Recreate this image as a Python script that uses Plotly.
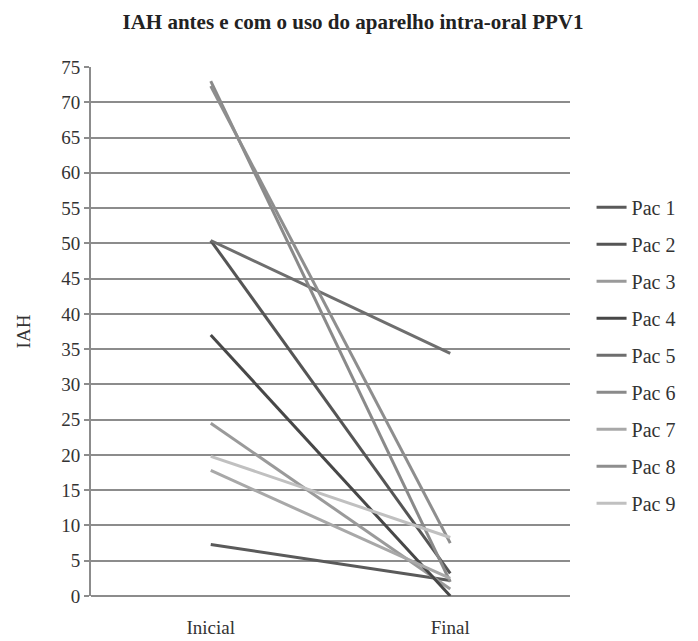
import plotly.graph_objects as go

categories = ["Inicial", "Final"]
patients = ["Pac 1", "Pac 2", "Pac 3", "Pac 4", "Pac 5", "Pac 6", "Pac 7", "Pac 8", "Pac 9"]
inicial = [7.3, 50.4, 24.5, 37.0, 50.4, 73.0, 17.8, 72.3, 19.8]
final = [2.2, 3.2, 1.0, 0.0, 34.4, 2.0, 2.5, 7.5, 8.3]
colors = ["#5a5a5a", "#555555", "#9a9a9a", "#474747", "#6e6e6e", "#8a8a8a", "#a8a8a8", "#8e8e8e", "#c0c0c0"]

font_family = "Liberation Serif, DejaVu Serif, serif"

fig = go.Figure()
for i, name in enumerate(patients):
    fig.add_trace(go.Scatter(
        x=categories, y=[inicial[i], final[i]], mode="lines", name=name,
        line=dict(color=colors[i], width=3), legendgroup=name,
    ))

fig.update_layout(
    width=690, height=633,
    paper_bgcolor="white", plot_bgcolor="white",
    margin=dict(l=83, r=128, t=59, b=45),
    title=dict(text="<b>IAH antes e com o uso do aparelho intra-oral PPV1</b>",
               x=0.5, xanchor="center", y=0.978, yanchor="middle",
               font=dict(family=font_family, size=21, color="#222222")),
    font=dict(family=font_family, color="#333333"),
    showlegend=True,
    legend=dict(x=1.045, xanchor="left", y=0.455, yanchor="middle",
                font=dict(family=font_family, size=20, color="#333333"),
                traceorder="grouped", tracegroupgap=8, itemwidth=30),
)
fig.update_xaxes(
    type="category", range=[-0.5, 1.5], showgrid=False, showline=False,
    ticks="", ticklabelstandoff=18, automargin=False,
    tickfont=dict(family=font_family, size=19, color="#333333"),
)
fig.update_yaxes(
    range=[0, 75], dtick=5, tick0=0, showgrid=True, gridcolor="#8c8c8c", gridwidth=2,
    zeroline=True, zerolinecolor="#8c8c8c", zerolinewidth=2,
    showline=True, linecolor="#8c8c8c", linewidth=2, automargin=False,
    ticks="outside", ticklen=5, tickcolor="#8c8c8c", tickwidth=2,
    tickfont=dict(family=font_family, size=19, color="#333333"),
    title=dict(text="IAH", font=dict(family=font_family, size=19, color="#333333"), standoff=26),
)

fig.write_html("out.html")
